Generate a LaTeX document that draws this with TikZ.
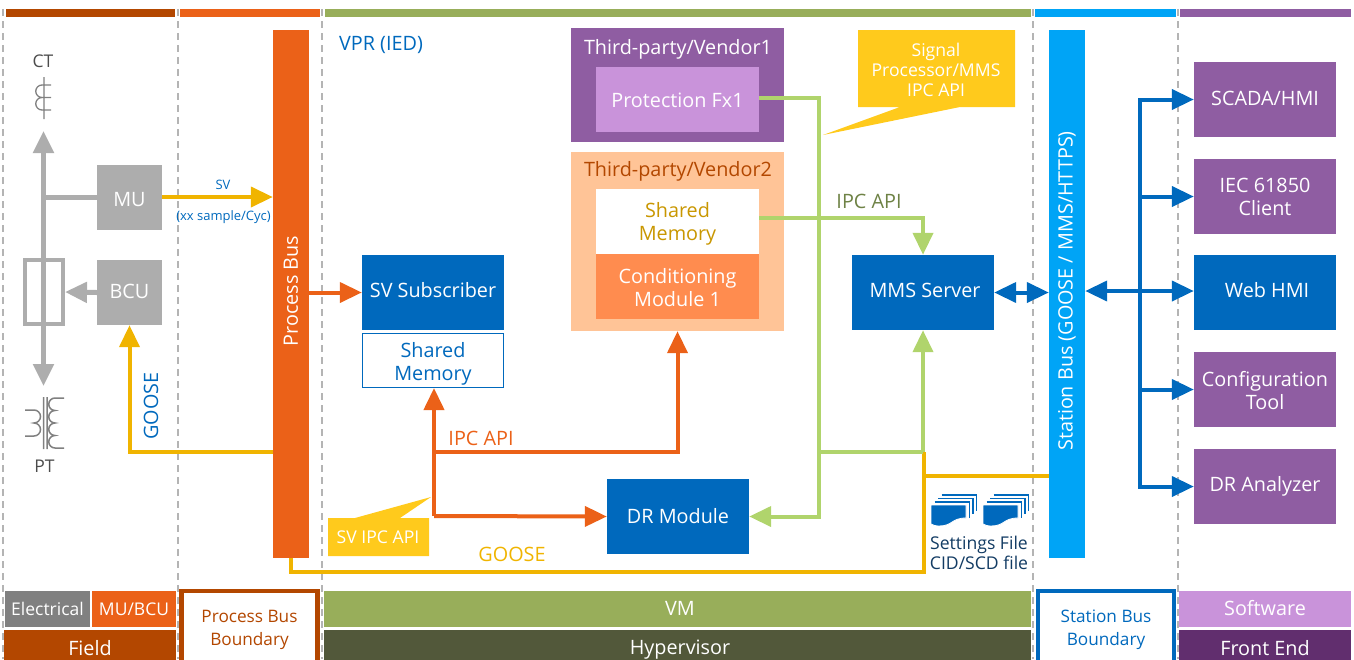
\documentclass[tikz,border=0pt]{standalone}
\usepackage{fontspec}
\setmainfont{Open Sans}
\usetikzlibrary{arrows.meta,calc}
\definecolor{fieldbrown}{HTML}{B34700}
\definecolor{busorange}{HTML}{EB6118}
\definecolor{vmgreen}{HTML}{98AE5A}
\definecolor{hypergreen}{HTML}{52583A}
\definecolor{skyblue}{HTML}{00A4F6}
\definecolor{boxblue}{HTML}{0069BD}
\definecolor{boxpurple}{HTML}{8F5DA2}
\definecolor{softpurple}{HTML}{C993DA}
\definecolor{frontpurple}{HTML}{612E6E}
\definecolor{elecgray}{HTML}{808080}
\definecolor{linegray}{HTML}{ADADAD}
\definecolor{dashgray}{HTML}{B4B4B4}
\definecolor{gooseyellow}{HTML}{F0B400}
\definecolor{notegold}{HTML}{FFCA1C}
\definecolor{ipcgreen}{HTML}{B0D46C}
\definecolor{ipclabel}{HTML}{6E8245}
\definecolor{vendorpeach}{HTML}{FFC497}
\definecolor{condorange}{HTML}{FF8C4F}
\definecolor{memgold}{HTML}{C99700}
\definecolor{filenavy}{HTML}{123B63}
\newcommand{\lift}[2]{\raisebox{#1pt}[\height][\depth]{\begin{tabular}{@{}c@{}}#2\end{tabular}}}
\tikzset{
  txt/.style={inner sep=0pt,align=center,font=\fontsize{19.8}{23}\selectfont},
  notetxt/.style={txt,font=\fontsize{17.6}{20}\selectfont},
  smalltxt/.style={inner sep=0pt,align=center,font=\fontsize{13}{15}\selectfont,text=boxblue},
  box/.style={txt,text=white,minimum width=142pt,minimum height=75pt},
  bar/.style={inner sep=0pt,minimum height=8pt},
  boundary/.style={txt,fill=white,line width=4.5pt,minimum width=136pt,minimum height=73pt,font=\fontsize{17.2}{23}\selectfont},
  wire/.style={line width=4pt},
  tip/.style={-{Triangle[length=22pt,width=20pt]}},
  both/.style={{Triangle[length=22pt,width=20pt]}-{Triangle[length=22pt,width=20pt]}},
  pics/fileicon/.style={code={
    \foreach \i in {3,2,1}
      \draw [boxblue,line width=1.6pt] (3.5*\i,-3.3*\i) -- ++(35,0) -- ++(0,16);
    \fill [boxblue,draw=white,line width=0.8pt] (0,0) -- (35,0) -- (35,13) .. controls (20,13) and (22,21) .. (8,21) .. controls (4,21) and (2,20) .. (0,19) -- cycle;
  }}
}
\begin{document}
\begin{tikzpicture}[x=1pt,y=-1pt]
\useasboundingbox (0,0) rectangle (1354,659);
% columns
\foreach \xpos in {3,178,322,1033,1178}
  \draw [dashgray,line width=1.3pt,dash pattern=on 7pt off 5pt] (\xpos,9) -- (\xpos,659);
% top bars
\node [bar,fill=fieldbrown,minimum width=169pt] (topfield) at (90.5,13) {};
\node [bar,fill=busorange,minimum width=140pt] (topprocess) at (250,13) {};
\node [bar,fill=vmgreen,minimum width=706pt] (topvm) at (678,13) {};
\node [bar,fill=skyblue,minimum width=141pt] (topstation) at (1105.5,13) {};
\node [bar,fill=boxpurple,minimum width=171pt] (topfront) at (1265.5,13) {};
% bottom legend
\node [txt,text=white,fill=elecgray,minimum width=85pt,minimum height=36pt,font=\fontsize{17.5}{20}\selectfont] (electrical) at (47.5,609) {Electrical};
\node [txt,text=white,fill=busorange,minimum width=84pt,minimum height=36pt,font=\fontsize{17.5}{20}\selectfont] (mubcu) at (134,609) {MU/BCU};
\node [txt,text=white,fill=fieldbrown,minimum width=172pt,minimum height=37pt] (field) at (90,648.5) {Field};
\node [boundary,draw=fieldbrown,text=fieldbrown] (pbboundary) at (249.5,627.5) {\lift{-2}{Process Bus\\Boundary}};
\node [fill=vmgreen,minimum width=707pt,minimum height=36pt,inner sep=0pt] (vm) at (677.5,609) {};
\node [txt,text=white] (vmlabel) at (680,608) {VM};
\node [fill=hypergreen,minimum width=707pt,minimum height=37pt,inner sep=0pt] (hypervisor) at (677.5,648.5) {};
\node [txt,text=white] (hypervisorlabel) at (680,650) {Hypervisor};
\node [boundary,draw=boxblue,text=boxblue] (sbboundary) at (1106,627.5) {\lift{-2}{Station Bus\\Boundary}};
\node [txt,text=white,fill=softpurple,minimum width=172pt,minimum height=36pt] (software) at (1265,609) {\lift{-2}{Software}};
\node [txt,text=white,fill=frontpurple,minimum width=172pt,minimum height=37pt] (frontend) at (1265,648.5) {Front End};
% buses
\node [fill=busorange,minimum width=36pt,minimum height=528pt,inner sep=0pt] (procbus) at (291,294) {};
\node [txt,text=white] (procbuslabel) at (291,291) {\rotatebox{90}{Process Bus}};
\node [fill=skyblue,minimum width=36pt,minimum height=528pt,inner sep=0pt] (stabus) at (1067,294) {};
\node [txt,text=white] (stabuslabel) at (1067,291) {\rotatebox{90}{Station Bus (GOOSE / MMS/HTTPS)}};
% field side
\node [box,fill=linegray,minimum width=65pt,minimum height=65pt] (mu) at (129.5,197.5) {\lift{-4.5}{MU}};
\node [box,fill=linegray,minimum width=65pt,minimum height=65pt] (bcu) at (129.5,292.5) {\lift{-1.5}{BCU}};
\node [draw=linegray,line width=4pt,inner sep=0pt,minimum width=38pt,minimum height=64pt] (fuse) at (44,292) {};
\node [txt,text=black!70,font=\fontsize{17.5}{20}\selectfont] (ct) at (43,61) {CT};
\node [txt,text=black!70,font=\fontsize{17.5}{20}\selectfont] (pt) at (44.5,466) {PT};
\coordinate (ctup) at (43.5,131);
\coordinate (ptdown) at (43.5,386);
\coordinate (junction) at (mu.west -| ctup);
\draw [linegray,line width=5pt,tip] (junction) -- (ctup);
\draw [linegray,line width=5pt,tip] (junction) -- (ptdown);
\draw [linegray,line width=5pt] (mu.west) -- (junction);
\draw [linegray,line width=5pt,tip] (bcu.west) -- (fuse.east);
% CT symbol
\draw [elecgray,line width=1.3pt] (44,77) -- (44,119)
  (51,85) -- (42,85) arc [start angle=270,end angle=90,radius=6.25]
  arc [start angle=270,end angle=90,radius=6.25] -- (51,110) (42,97.5) -- (51,97.5);
% PT symbol
\draw [elecgray,line width=1.5pt] (43.5,397) -- (43.5,449) (47,397) -- (47,449)
  (64,398) -- (55,398) arc [start angle=270,end angle=90,radius=6.25]
  arc [start angle=270,end angle=90,radius=6.25]
  arc [start angle=270,end angle=90,radius=6.25]
  arc [start angle=270,end angle=90,radius=6.25] -- (64,448)
  (25,410) -- (34,410) arc [start angle=-90,end angle=90,radius=6.5]
  arc [start angle=-90,end angle=90,radius=6.5] -- (25,436);
% SV and GOOSE to the field
\coordinate (mupub) at (162,197);
\draw [gooseyellow,wire,tip] (mupub) -- (mupub -| procbus.west);
\node [smalltxt] (svlabel) at (223,185) {SV};
\node [smalltxt] (samplelabel) at (223.5,217) {(xx sample/Cyc)};
\coordinate (gooseleft) at (273,452);
\draw [gooseyellow,wire,tip] (gooseleft) -| (bcu.south);
\node [txt,text=boxblue] (gooseup) at (151,406) {\rotatebox{90}{GOOSE}};
% VPR
\node [txt,text=boxblue] (vpr) at (381,45) {VPR (IED)};
\node [box,fill=boxblue] (svsub) at (433,292.5) {\lift{-0.5}{SV Subscriber}};
\node [box,draw=boxblue,fill=white,text=boxblue,line width=1pt,minimum width=141pt,minimum height=54pt] (svmem) at (433,360.5) {\lift{-4}{Shared\\Memory}};
\node [fill=boxpurple,inner sep=0pt,minimum width=213pt,minimum height=114pt] (vendorone) at (677.5,85) {};
\node [txt,text=white] (vendoronelabel) at (678,49) {Third-party/Vendor1};
\node [box,fill=softpurple,minimum width=163pt,minimum height=65pt] (protect) at (677.5,99.5) {\lift{-3}{Protection Fx1}};
\node [fill=vendorpeach,inner sep=0pt,minimum width=213pt,minimum height=179pt] (vendortwo) at (677.5,241.5) {};
\node [txt,text=fieldbrown] (vendortwolabel) at (678,171) {Third-party/Vendor2};
\node [box,fill=white,text=memgold,minimum width=163pt,minimum height=65pt] (vendormem) at (677.5,221.5) {\lift{-2.5}{Shared\\Memory}};
\node [box,fill=condorange,minimum width=163pt,minimum height=65pt] (condition) at (677.5,286.5) {\lift{-4}{Conditioning\\Module 1}};
\node [box,fill=boxblue] (mms) at (923,292.5) {\hspace*{4pt}\lift{-0.5}{MMS Server}};
\node [box,fill=boxblue] (drmod) at (678,516.5) {DR Module};
% IPC lines
\draw [busorange,wire,tip] (procbus.east |- svsub.west) -- (svsub.west);
\coordinate (svdown) at (434,452);
\coordinate (svcorner) at (434,516);
\draw [busorange,wire,tip] (svcorner) -- (svmem.south -| svcorner);
\draw [busorange,wire,tip] (svcorner) -- (drmod.west);
\draw [busorange,wire,tip] (svdown) -| (condition.south |- vendortwo.south);
\node [txt,text=busorange] (ipcorange) at (481,438) {IPC API};
\coordinate (greentrunk) at (819,98);
\coordinate (greenjoin) at (819,452);
\coordinate (mmsjoin) at (mms.south |- greenjoin);
\draw [ipcgreen,wire] (protect.east |- greentrunk) -- (greentrunk) -- (greenjoin);
\draw [ipcgreen,wire,tip] (greenjoin) |- (drmod.east);
\draw [ipcgreen,wire,tip] (vendormem.east |- 0,218) -| (mms.north);
\draw [gooseyellow,wire] (procbus.south) |- (923.5,572) -- (923.5,452);
\draw [gooseyellow,wire] (923.5,476) -- (stabus.west |- 0,476);
\draw [ipcgreen,wire] (greenjoin) -- (mmsjoin);
\draw [ipcgreen,wire,tip] (mmsjoin) -- (mms.south);
\node [txt,text=ipclabel] (ipcgreenlabel) at (869,201) {IPC API};
\node [txt,text=gooseyellow] (gooselabel) at (512,554) {GOOSE};
% notes
\fill [notegold] (858,30) rectangle (1015,107) (900,107) -- (823,135) -- (960,107) -- cycle;
\node [notetxt,text=white] (signalnote) at (936,70) {Signal\\Processor/MMS\\IPC API};
\fill [notegold] (328,518) rectangle (429,556) (355,518) -- (431,497) -- (400,518) -- cycle;
\node [notetxt,text=white] (svnote) at (378,537) {SV IPC API};
% files
\pic at (931,505) {fileicon};
\pic at (983,505) {fileicon};
\node [notetxt,text=filenavy] (settings) at (979,553) {Settings File\\CID/SCD file};
% front end
\node [box,fill=boxpurple] (scada) at (1265,99.5) {\lift{-1}{SCADA/HMI}};
\node [box,fill=boxpurple] (iec) at (1265,196.5) {\lift{-3}{IEC 61850\\Client}};
\node [box,fill=boxblue] (webhmi) at (1265,292.5) {\hspace*{4pt}\lift{-0.5}{Web HMI}};
\node [box,fill=boxpurple] (config) at (1265,389.5) {\lift{-4}{Configuration\\Tool}};
\node [box,fill=boxpurple] (dranalyzer) at (1265,486.5) {DR Analyzer};
\coordinate (rail) at (1140,291);
\draw [boxblue,wire,both] (mms.east) -- (stabus.west |- mms.east);
\draw [boxblue,wire,both] (stabus.east |- rail) -- (webhmi.west |- rail);
\draw [boxblue,wire,tip] (rail) |- (scada.west);
\draw [boxblue,wire,tip] (rail) |- (iec.west);
\draw [boxblue,wire,tip] (rail) |- (config.west);
\draw [boxblue,wire,tip] (rail) |- (dranalyzer.west);
\end{tikzpicture}
\end{document}
